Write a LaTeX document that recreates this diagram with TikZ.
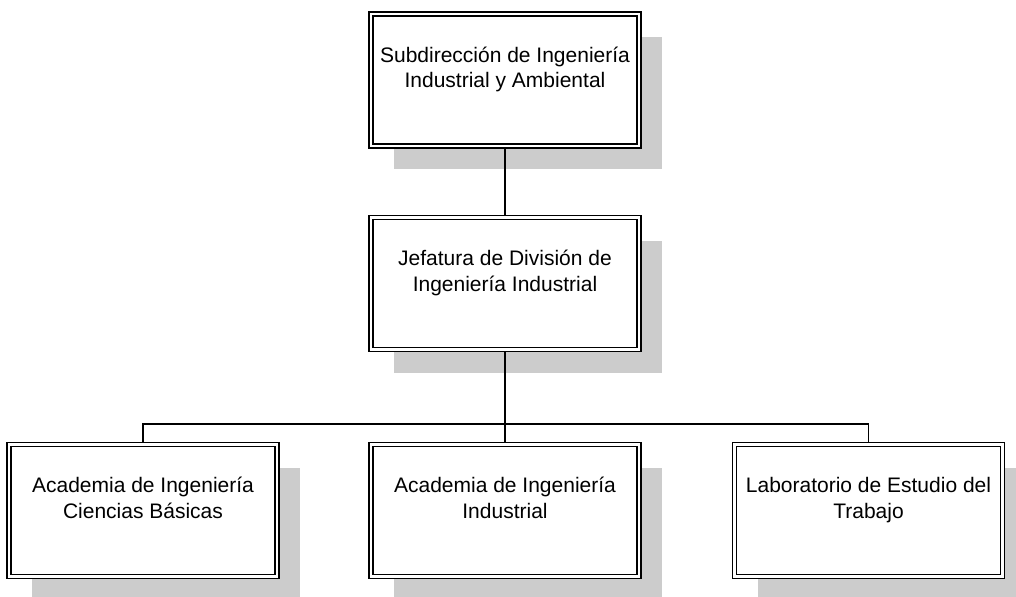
\documentclass[tikz,border=0pt]{standalone}
\usepackage{fontspec}
\setmainfont{Liberation Sans}
\usetikzlibrary{shadows}
\newcommand{\orgtext}[1]{\parbox[c][132bp][t]{262bp}{\centering\rule{0pt}{48bp}#1}}
\tikzset{
  orgbox/.style={draw,double,double distance=2.6bp,line width=1.5bp,fill=white,
    inner sep=0pt,outer sep=2.8bp,minimum width=268bp,minimum height=132bp,
    font=\fontsize{21bp}{25.5bp}\selectfont,
    drop shadow={shadow xshift=23bp,shadow yshift=-23bp,fill=black!20,opacity=1}},
  orgline/.style={line width=1.6bp}
}
\begin{document}
\begin{tikzpicture}
\useasboundingbox (0bp,0bp) rectangle (1016bp,-597bp);

\node (sub) at (505bp,-80bp)[orgbox] {\orgtext{Subdirección de Ingeniería\\Industrial y Ambiental}};
\node (jef) at (505bp,-283.5bp)[orgbox] {\orgtext{Jefatura de División de\\Ingeniería Industrial}};
\node (aci) at (143bp,-510.5bp)[orgbox] {\orgtext{Academia de Ingeniería\\Ciencias Básicas}};
\node (aii) at (505bp,-510.5bp)[orgbox] {\orgtext{Academia de Ingeniería\\Industrial}};
\node (lab) at (868.5bp,-510.5bp)[orgbox] {\orgtext{Laboratorio de Estudio del\\Trabajo}};
\coordinate (bus) at (505bp,-424bp);
\draw [orgline] (sub) to (jef);
\draw [orgline] (jef) to (bus);
\draw [orgline] (aci.north) |- (bus) -| (lab.north);
\draw [orgline] (bus) to (aii);
\end{tikzpicture}
\end{document}
